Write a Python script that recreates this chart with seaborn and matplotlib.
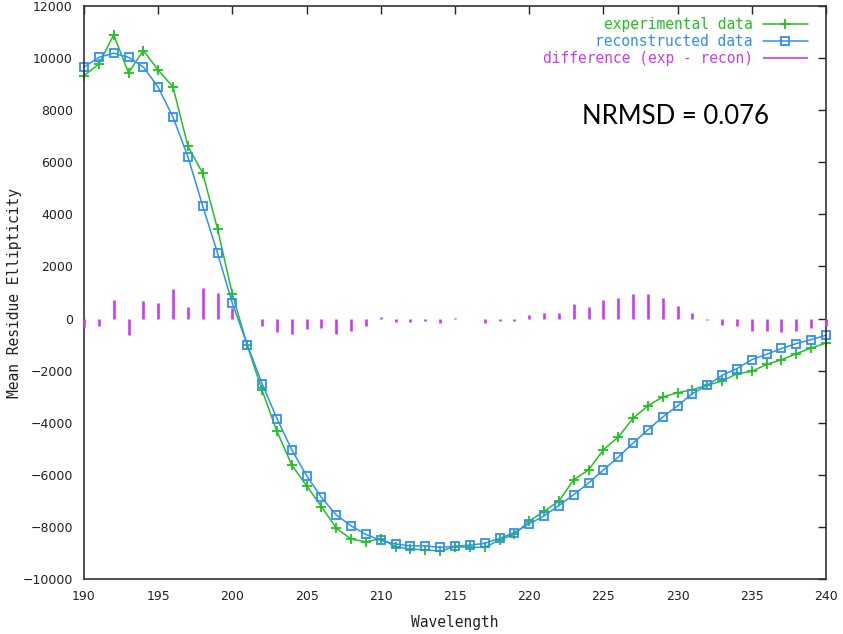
import numpy as np
import matplotlib
matplotlib.use('Agg')
import matplotlib.pyplot as plt
import seaborn as sns

# Wavelength grid (nm) and values
wavelength = np.arange(190, 241)

experimental = [9325, 9770, 10890, 9440, 10290, 9540, 8890, 6620, 5580, 3440,
                930, -1030, -2750, -4330, -5620, -6420, -7220, -8050, -8470, -8570,
                -8450, -8760, -8850, -8880, -8930, -8760, -8780, -8790, -8500, -8280,
                -7780, -7400, -7010, -6190, -5810, -5040, -4550, -3830, -3350, -3010,
                -2850, -2730, -2560, -2400, -2120, -2030, -1760, -1580, -1350, -1130,
                -940]

reconstructed = [9660, 10030, 10190, 10030, 9660, 8880, 7730, 6220, 4320, 2510,
                 580, -1000, -2500, -3840, -5040, -6030, -6870, -7540, -7960, -8290,
                 -8520, -8660, -8730, -8730, -8790, -8740, -8700, -8630, -8440, -8220,
                 -7880, -7580, -7180, -6760, -6320, -5810, -5320, -4780, -4270, -3780,
                 -3350, -2880, -2560, -2180, -1920, -1580, -1370, -1150, -960, -810,
                 -640]

difference = [-330, -300, 700, -620, 670, 600, 1130, 440, 1180, 1000,
              400, -30, -290, -530, -600, -390, -360, -580, -480, -300,
              60, -130, -130, -90, -190, 20, 0, -190, -90, -90,
              150, 200, 200, 550, 430, 720, 780, 940, 940, 780,
              500, 200, -50, -260, -300, -480, -480, -520, -480, -350,
              -300]

labels = ['experimental data', 'reconstructed data', 'difference (exp - recon)']

sns.set_style('white')
plt.rcParams['font.family'] = ['DejaVu Sans']

green = '#1fc21f'
blue = '#2e8ff7'
magenta = '#c83cf5'
mono = 'DejaVu Sans Mono'

fig = plt.figure(figsize=(8.43, 6.34), dpi=100)
ax = fig.add_axes([84 / 843, 1 - 579 / 634, 742 / 843, 573 / 634])

# experimental and reconstructed spectra
sns.lineplot(x=wavelength, y=experimental, ax=ax, color=green, lw=1.1,
             marker='+', ms=7, mew=1.3, mec=green, label=labels[0], clip_on=False)
sns.lineplot(x=wavelength, y=reconstructed, ax=ax, color=blue, lw=1.1,
             marker='s', ms=5.8, mfc='none', mec=blue, mew=1.3, label=labels[1],
             clip_on=False)
# difference as impulses from zero
ax.vlines(wavelength, 0, difference, color=magenta, lw=1.9, label=labels[2],
          zorder=3, clip_on=False)

ax.set_xlim(190, 240)
ax.set_ylim(-10000, 12000)
ax.set_xticks(range(190, 241, 5))
ax.set_yticks(range(-10000, 12001, 2000))
ax.tick_params(direction='in', length=6, width=1, top=True, right=True,
               labelsize=9, pad=8, colors='#222222')
for sp in ax.spines.values():
    sp.set_color('#333333')
    sp.set_linewidth(1.2)

ax.set_xlabel('Wavelength', family=mono, fontsize=10.5, color='#222222')
ax.set_ylabel('Mean Residue Ellipticity', family=mono, fontsize=10.5, color='#222222')
ax.xaxis.set_label_coords(0.5, -0.063)
ax.yaxis.set_label_coords(-0.083, 0.5)

leg = ax.legend(loc='upper right', bbox_to_anchor=(0.9757, 0.981),
                borderaxespad=0, borderpad=0, frameon=False, markerfirst=False,
                handlelength=3.1, handletextpad=0.7, labelspacing=0.15,
                numpoints=1, prop={'family': mono, 'size': 10.5})
for txt, c in zip(leg.get_texts(), [green, blue, magenta]):
    txt.set_color(c)
leg.legend_handles[2].set_linewidth(1.2)

ax.text(0.671, 0.807, 'NRMSD = 0.076', transform=ax.transAxes, fontsize=18.5,
        family='Lato', va='center', ha='left', color='black')

fig.savefig('out.png', dpi=100)
